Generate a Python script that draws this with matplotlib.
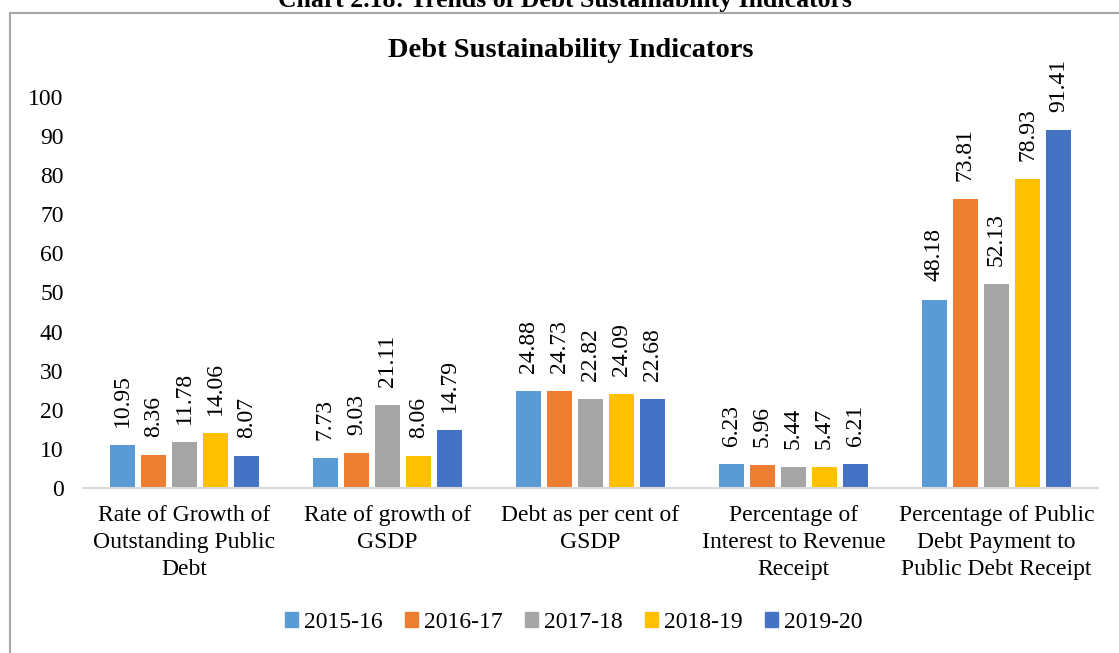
import matplotlib.pyplot as plt
import numpy as np
from matplotlib.lines import Line2D

plt.rcParams['font.family'] = ['Liberation Serif', 'DejaVu Serif']

categories = ['Rate of Growth of\nOutstanding Public\nDebt',
              'Rate of growth of\nGSDP',
              'Debt as per cent of\nGSDP',
              'Percentage of\nInterest to Revenue\nReceipt',
              'Percentage of Public\nDebt Payment to\nPublic Debt Receipt']
years = ['2015-16', '2016-17', '2017-18', '2018-19', '2019-20']
v2015 = [10.95, 7.73, 24.88, 6.23, 48.18]
v2016 = [8.36, 9.03, 24.73, 5.96, 73.81]
v2017 = [11.78, 21.11, 22.82, 5.44, 52.13]
v2018 = [14.06, 8.06, 24.09, 5.47, 78.93]
v2019 = [8.07, 14.79, 22.68, 6.21, 91.41]
series = [v2015, v2016, v2017, v2018, v2019]
colors = ['#5B9BD5', '#ED7D31', '#A5A5A5', '#FFC000', '#4472C4']

fig = plt.figure(figsize=(11.19, 6.53), dpi=100)
ax = fig.add_axes([0.0742, 0.2527, 0.907, 0.599])

x = np.arange(len(categories))
pitch = 0.153
width = 0.124
for i, (vals, c) in enumerate(zip(series, colors)):
    pos = x + (i - 2) * pitch
    bars = ax.bar(pos, vals, width, color=c, label=years[i], zorder=2)
    for b, v in zip(bars, vals):
        ax.annotate('%.2f' % v, (b.get_x() + b.get_width() / 2, v),
                    xytext=(0, 13), textcoords='offset points',
                    rotation=90, ha='center', va='bottom', fontsize=17)

ax.set_xlim(-0.5, 4.5)
ax.set_ylim(0, 100)
ax.set_yticks(range(0, 101, 10))
ax.set_xticks(x)
ax.set_xticklabels(categories, fontsize=17, linespacing=1.38)
ax.tick_params(axis='y', labelsize=17, length=0, pad=14)
ax.tick_params(axis='x', length=0, pad=12)
for s in ['top', 'right', 'left']:
    ax.spines[s].set_visible(False)
ax.spines['bottom'].set_color('#D9D9D9')
ax.spines['bottom'].set_linewidth(1.5)

fig.text(0.51, 0.922, 'Debt Sustainability Indicators', ha='center', va='center',
         fontsize=20.5, fontweight='bold')
fig.text(0.505, 1.0, 'Chart 2.18: Trends of Debt Sustainability Indicators',
         ha='center', va='center', fontsize=18.5, fontweight='bold')

# outer frame (clipped at right and bottom)
fig.add_artist(Line2D([0.009, 0.009], [0.0, 0.98], color='#A6A6A6', lw=1.5))
fig.add_artist(Line2D([0.009, 1.0], [0.98, 0.98], color='#A6A6A6', lw=1.5))

handles = [plt.Rectangle((0, 0), 1, 1, color=c) for c in colors]
fig.legend(handles, years, loc='center', bbox_to_anchor=(0.513, 0.047), ncol=5,
           frameon=False, fontsize=17, handlelength=0.55, handleheight=0.55,
           handletextpad=0.25, columnspacing=0.95)

fig.savefig('out.png', dpi=100)
